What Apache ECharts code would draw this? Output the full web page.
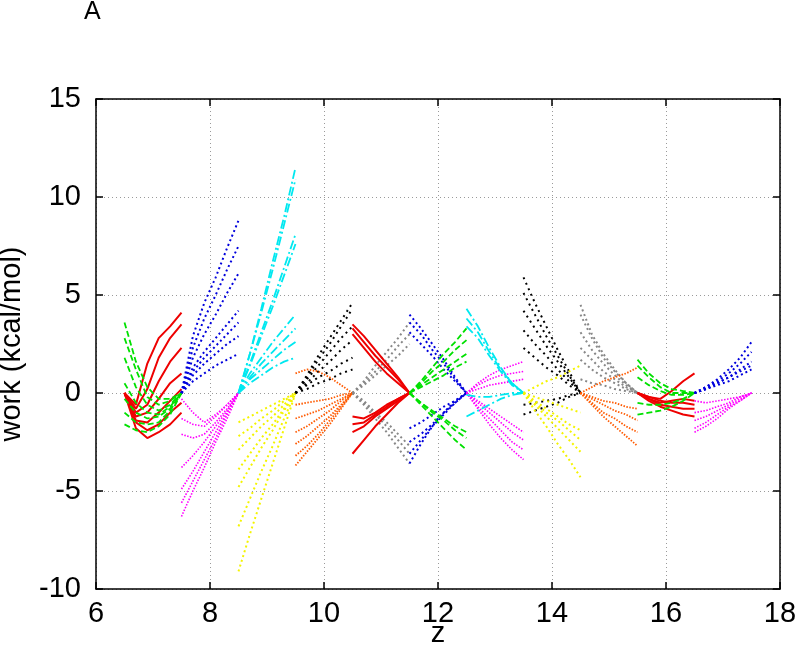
<!DOCTYPE html>
<html>
<head>
<meta charset="utf-8">
<script src="https://cdn.jsdelivr.net/npm/echarts@6/dist/echarts.min.js"></script>
<style>html,body{margin:0;padding:0;background:#fff}#c{width:800px;height:655px}</style>
</head>
<body>
<div id="c"></div>
<script>
// sample positions inside each 1-unit window (fraction of the window)
const zFrac = [0, 0.2, 0.4, 0.6, 0.8, 1.0];
const xTicks = [6, 8, 10, 12, 14, 16, 18];
const yTicks = [-10, -5, 0, 5, 10, 15];

// window 6.5-7.5
const red0 = [
  [0, -0.6, 1.5, 2.8, 3.4, 4.1],
  [0, -0.8, 0.2, 1.8, 2.8, 3.5],
  [0, -1.0, -0.6, 0.6, 1.6, 2.3],
  [0, -1.2, -1.0, -0.3, 0.5, 1.0],
  [0, -1.4, -1.5, -1.0, -0.4, 0.2],
  [0, -1.5, -1.9, -1.6, -1.0, -0.5],
  [0, -1.8, -2.3, -2.0, -1.6, -1.0]
];
const green0 = [
  [3.6, 1.6, 0.3, -0.3, -0.3, 0],
  [2.8, 1.2, -0.2, -0.6, -0.4, 0],
  [1.8, 0.3, -0.6, -0.9, -0.6, 0],
  [0.5, -0.5, -1.0, -1.1, -0.7, 0],
  [-0.3, -1.0, -1.3, -1.2, -0.8, 0],
  [-1.0, -1.5, -1.6, -1.5, -0.9, 0],
  [-1.6, -1.9, -2.0, -1.7, -1.1, 0]
];
// window 7.5-8.5
const blue1 = [
  [0, 2.9, 4.6, 5.9, 7.4, 8.8],
  [0, 2.3, 3.8, 5.0, 6.3, 7.5],
  [0, 1.8, 3.0, 4.0, 5.1, 6.1],
  [0, 1.3, 2.1, 2.8, 3.5, 4.2],
  [0, 1.1, 1.8, 2.4, 3.0, 3.6],
  [0, 0.9, 1.5, 2.0, 2.5, 2.9],
  [0, 0.6, 1.0, 1.4, 1.7, 2.0]
];
const magenta1 = [
  [-0.3, -1.0, -1.5, -1.1, -0.6, 0],
  [-1.3, -1.6, -1.7, -1.2, -0.6, 0],
  [-2.1, -2.3, -2.1, -1.5, -0.8, 0],
  [-3.8, -3.2, -2.5, -1.7, -0.9, 0],
  [-4.9, -4.0, -3.0, -2.0, -1.0, 0],
  [-5.6, -4.5, -3.4, -2.3, -1.1, 0],
  [-6.3, -5.0, -3.8, -2.5, -1.3, 0]
];
// window 8.5-9.5
const cyan2 = [
  [0, 2.0, 4.3, 6.7, 9.0, 11.5],
  [0, 2.0, 4.1, 6.3, 8.6, 10.9],
  [0, 1.5, 3.1, 4.7, 6.4, 8.1],
  [0, 1.4, 2.9, 4.4, 6.0, 7.6],
  [0, 1.0, 1.8, 2.6, 3.3, 4.0],
  [0, 0.8, 1.5, 2.1, 2.7, 3.3],
  [0, 0.7, 1.2, 1.7, 2.2, 2.6],
  [0, 0.5, 0.9, 1.3, 1.6, 1.8]
];
const yellow2 = [
  [-9.1, -7.2, -5.4, -3.6, -1.8, 0],
  [-6.8, -5.4, -4.0, -2.7, -1.3, 0],
  [-4.8, -3.8, -2.8, -1.9, -0.9, 0],
  [-3.9, -3.1, -2.3, -1.6, -0.8, 0],
  [-2.9, -2.3, -1.7, -1.2, -0.6, 0],
  [-2.2, -1.8, -1.3, -0.9, -0.4, 0],
  [-1.5, -1.2, -0.9, -0.6, -0.3, 0]
];
// window 9.5-10.5
const black3 = [
  [0, 0.9, 1.9, 2.8, 3.7, 4.6],
  [0, 0.8, 1.7, 2.5, 3.4, 4.3],
  [0, 0.7, 1.4, 2.1, 2.8, 3.4],
  [0, 0.5, 1.1, 1.6, 2.2, 2.7],
  [0, 0.4, 0.8, 1.1, 1.5, 1.8],
  [0, 0.2, 0.5, 0.7, 1.0, 1.2]
];
const orange3 = [
  [1.0, 1.2, 1.1, 0.8, 0.4, 0],
  [-0.6, -0.5, -0.4, -0.3, -0.1, 0],
  [-1.3, -1.1, -0.9, -0.6, -0.3, 0],
  [-2.0, -1.7, -1.3, -0.9, -0.4, 0],
  [-2.6, -2.2, -1.7, -1.2, -0.6, 0],
  [-3.2, -2.7, -2.1, -1.4, -0.7, 0],
  [-3.7, -3.0, -2.3, -1.6, -0.8, 0]
];
// window 10.5-11.5
const red4 = [
  [3.5, 2.9, 2.2, 1.5, 0.8, 0],
  [3.3, 2.6, 1.9, 1.3, 0.7, 0],
  [3.0, 2.3, 1.6, 1.0, 0.5, 0],
  [-1.2, -1.3, -1.0, -0.6, -0.3, 0],
  [-1.6, -1.5, -1.1, -0.7, -0.3, 0],
  [-2.0, -1.7, -1.2, -0.8, -0.4, 0],
  [-3.1, -2.4, -1.7, -1.1, -0.5, 0]
];
const gray4 = [
  [0, 0.6, 1.4, 2.1, 2.8, 3.6],
  [0, 0.5, 1.1, 1.7, 2.4, 3.0],
  [0, 0.4, 0.9, 1.4, 1.9, 2.5],
  [0, -0.6, -1.3, -2.0, -2.8, -3.6],
  [0, -0.5, -1.1, -1.7, -2.4, -3.1],
  [0, -0.4, -1.0, -1.5, -2.1, -2.7]
];
// window 11.5-12.5
const blue5 = [
  [4.0, 3.3, 2.5, 1.7, 0.8, 0],
  [3.6, 3.0, 2.2, 1.5, 0.7, 0],
  [3.1, 2.5, 1.9, 1.2, 0.6, 0],
  [-1.8, -1.5, -1.1, -0.7, -0.4, 0],
  [-2.5, -2.1, -1.6, -1.0, -0.5, 0],
  [-3.1, -2.4, -1.7, -1.1, -0.5, 0],
  [-3.6, -2.6, -1.7, -1.0, -0.4, 0]
];
const green5 = [
  [0, 0.6, 1.3, 2.0, 2.6, 3.3],
  [0, 0.5, 1.1, 1.6, 2.2, 2.7],
  [0, 0.4, 0.8, 1.2, 1.6, 2.0],
  [0, 0.3, 0.6, 0.9, 1.3, 1.6],
  [0, -0.5, -0.9, -1.3, -1.7, -2.0],
  [0, -0.5, -1.0, -1.4, -1.9, -2.3],
  [0, -0.6, -1.2, -1.8, -2.4, -2.9]
];
// window 12.5-13.5
const cyan6 = [
  [4.3, 3.4, 2.3, 1.3, 0.5, 0],
  [3.8, 3.1, 2.1, 1.2, 0.5, 0],
  [3.4, 2.8, 1.9, 1.1, 0.4, 0],
  [-0.1, -0.2, -0.2, -0.1, 0, 0],
  [-1.2, -0.9, -0.6, -0.3, -0.1, 0]
];
const magenta6 = [
  [0, 0.5, 0.9, 1.2, 1.4, 1.6],
  [0, 0.4, 0.7, 0.9, 1.0, 1.1],
  [0, 0.2, 0.4, 0.5, 0.6, 0.7],
  [0, -0.4, -0.8, -1.2, -1.6, -2.0],
  [0, -0.5, -1.0, -1.5, -2.0, -2.4],
  [0, -0.7, -1.3, -1.9, -2.5, -2.9],
  [0, -0.8, -1.6, -2.3, -2.9, -3.4]
];
// window 13.5-14.5
const black7 = [
  [5.9, 4.6, 3.4, 2.2, 1.1, 0],
  [5.1, 4.0, 2.9, 1.9, 0.9, 0],
  [4.2, 3.3, 2.4, 1.6, 0.8, 0],
  [3.2, 2.5, 1.9, 1.2, 0.6, 0],
  [2.3, 1.8, 1.3, 0.9, 0.4, 0],
  [-1.1, -0.9, -0.7, -0.5, -0.2, 0],
  [-0.6, -0.5, -0.4, -0.3, -0.1, 0]
];
const yellow7 = [
  [0, 0.3, 0.6, 0.8, 1.1, 1.4],
  [0, -0.2, -0.4, -0.6, -0.8, -1.0],
  [0, -0.4, -0.8, -1.2, -1.6, -1.9],
  [0, -0.5, -1.0, -1.4, -1.9, -2.4],
  [0, -0.6, -1.2, -1.8, -2.4, -3.0],
  [0, -0.9, -1.7, -2.6, -3.4, -4.3]
];
// window 14.5-15.5
const gray8 = [
  [4.5, 3.0, 2.0, 1.2, 0.5, 0],
  [4.0, 2.8, 1.8, 1.1, 0.5, 0],
  [3.1, 2.2, 1.5, 0.9, 0.4, 0],
  [2.3, 1.7, 1.1, 0.7, 0.3, 0],
  [1.7, 1.2, 0.8, 0.5, 0.2, 0],
  [0.7, 0.5, 0.4, 0.2, 0.1, 0]
];
const orange8 = [
  [0, 0.3, 0.6, 0.8, 1.0, 1.3],
  [0, -0.2, -0.4, -0.5, -0.7, -0.8],
  [0, -0.3, -0.6, -0.9, -1.1, -1.4],
  [0, -0.5, -1.0, -1.3, -1.7, -2.0],
  [0, -0.6, -1.2, -1.7, -2.2, -2.7]
];
// window 15.5-16.5
const green9 = [
  [1.7, 1.0, 0.5, 0.2, 0.1, 0],
  [1.4, 0.8, 0.3, 0.0, 0.0, 0],
  [0.8, 0.4, 0.1, -0.1, -0.1, 0],
  [-0.5, -0.6, -0.6, -0.5, -0.3, 0],
  [-1.1, -1.0, -0.9, -0.7, -0.4, 0]
];
const red9 = [
  [0, -0.2, -0.3, 0.1, 0.6, 1.0],
  [0, -0.3, -0.5, -0.4, -0.3, -0.4],
  [0, -0.3, -0.6, -0.7, -0.8, -0.8],
  [0, -0.4, -0.7, -0.9, -1.1, -1.2],
  [0, -0.2, -0.4, -0.5, -0.5, -0.6]
];
// window 16.5-17.5
const blue10 = [
  [0, 0.3, 0.7, 1.2, 1.8, 2.6],
  [0, 0.3, 0.6, 1.0, 1.5, 2.1],
  [0, 0.2, 0.5, 0.8, 1.2, 1.6],
  [0, 0.2, 0.5, 0.8, 1.1, 1.4],
  [0, 0.2, 0.4, 0.6, 0.9, 1.2]
];
const magenta10 = [
  [-0.4, -0.5, -0.4, -0.3, -0.2, 0],
  [-1.0, -0.9, -0.7, -0.5, -0.2, 0],
  [-1.4, -1.2, -0.9, -0.6, -0.3, 0],
  [-1.8, -1.5, -1.1, -0.7, -0.4, 0],
  [-2.0, -1.7, -1.3, -0.8, -0.4, 0]
];

const styles = {
  red:     { color: '#ee0000', width: 2, type: 'solid' },
  green:   { color: '#00e000', width: 1.8, type: [6, 3] },
  blue:    { color: '#0000dd', width: 2, type: [2, 3] },
  magenta: { color: '#ff00ff', width: 1.6, type: [1.5, 1.5] },
  cyan:    { color: '#00e8f0', width: 1.8, type: [9, 3, 2, 3] },
  yellow:  { color: '#f4f400', width: 2, type: [2, 3] },
  black:   { color: '#000000', width: 2, type: [2, 4] },
  orange:  { color: '#ff5a00', width: 1.8, type: [1.5, 1.5] },
  gray:    { color: '#888888', width: 2, type: [2, 3] }
};

const fans = [
  { start: 6.5, data: red0, style: 'red' },
  { start: 6.5, data: green0, style: 'green' },
  { start: 7.5, data: blue1, style: 'blue' },
  { start: 7.5, data: magenta1, style: 'magenta' },
  { start: 8.5, data: cyan2, style: 'cyan' },
  { start: 8.5, data: yellow2, style: 'yellow' },
  { start: 9.5, data: black3, style: 'black' },
  { start: 9.5, data: orange3, style: 'orange' },
  { start: 10.5, data: gray4, style: 'gray' },
  { start: 10.5, data: red4, style: 'red' },
  { start: 11.5, data: blue5, style: 'blue' },
  { start: 11.5, data: green5, style: 'green' },
  { start: 12.5, data: magenta6, style: 'magenta' },
  { start: 12.5, data: cyan6, style: 'cyan' },
  { start: 13.5, data: black7, style: 'black' },
  { start: 13.5, data: yellow7, style: 'yellow' },
  { start: 14.5, data: gray8, style: 'gray' },
  { start: 14.5, data: orange8, style: 'orange' },
  { start: 15.5, data: red9, style: 'red' },
  { start: 15.5, data: green9, style: 'green' },
  { start: 16.5, data: blue10, style: 'blue' },
  { start: 16.5, data: magenta10, style: 'magenta' }
];

const FONT = '"Liberation Sans", Arial, Helvetica, sans-serif';
const series = [];
fans.forEach(f => {
  f.data.forEach(traj => {
    series.push({
      type: 'line',
      data: traj.map((w, i) => [f.start + zFrac[i], w]),
      showSymbol: false,
      symbol: 'none',
      silent: true,
      lineStyle: styles[f.style]
    });
  });
});

const gridLine = { show: true, lineStyle: { color: '#9a9a9a', width: 1, type: [1, 3] } };
const axLine = { show: true, onZero: false, lineStyle: { color: '#000', width: 1.5 } };
const tick = { show: true, inside: true, length: 7, lineStyle: { color: '#000', width: 1.5 } };

const chart = echarts.init(document.getElementById('c'), null, { renderer: 'canvas' });
chart.setOption({
  animation: false,
  backgroundColor: '#fff',
  graphic: [{
    type: 'text', left: 84, top: 0, silent: true,
    style: { text: 'A', fontSize: 25, fontFamily: FONT, fill: '#000' }
  }],
  grid: { left: 96, right: 20, top: 99, bottom: 66, containLabel: false, outerBoundsMode: 'none' },
  xAxis: [
    {
      type: 'value', min: xTicks[0], max: xTicks[xTicks.length - 1], interval: 2,
      position: 'bottom',
      name: 'z', nameLocation: 'middle', nameGap: 30, nameMoveOverlap: false,
      nameTextStyle: { fontSize: 29, color: '#000', fontFamily: FONT },
      axisLine: axLine, axisTick: tick,
      axisLabel: { fontSize: 29, color: '#000', margin: 10, fontFamily: FONT },
      splitLine: gridLine
    },
    {
      type: 'value', min: xTicks[0], max: xTicks[xTicks.length - 1], interval: 2,
      position: 'top',
      axisLine: axLine, axisTick: tick, axisLabel: { show: false }, splitLine: { show: false }
    }
  ],
  yAxis: [
    {
      type: 'value', min: yTicks[0], max: yTicks[yTicks.length - 1], interval: 5,
      position: 'left',
      name: 'work (kcal/mol)', nameLocation: 'middle', nameGap: 70, nameMoveOverlap: false,
      nameTextStyle: { fontSize: 29, color: '#000', fontFamily: FONT },
      axisLine: axLine, axisTick: tick,
      axisLabel: { fontSize: 29, color: '#000', margin: 15, fontFamily: FONT },
      splitLine: gridLine
    },
    {
      type: 'value', min: yTicks[0], max: yTicks[yTicks.length - 1], interval: 5,
      position: 'right',
      axisLine: axLine, axisTick: tick, axisLabel: { show: false }, splitLine: { show: false }
    }
  ],
  series: series
});
</script>
</body>
</html>
